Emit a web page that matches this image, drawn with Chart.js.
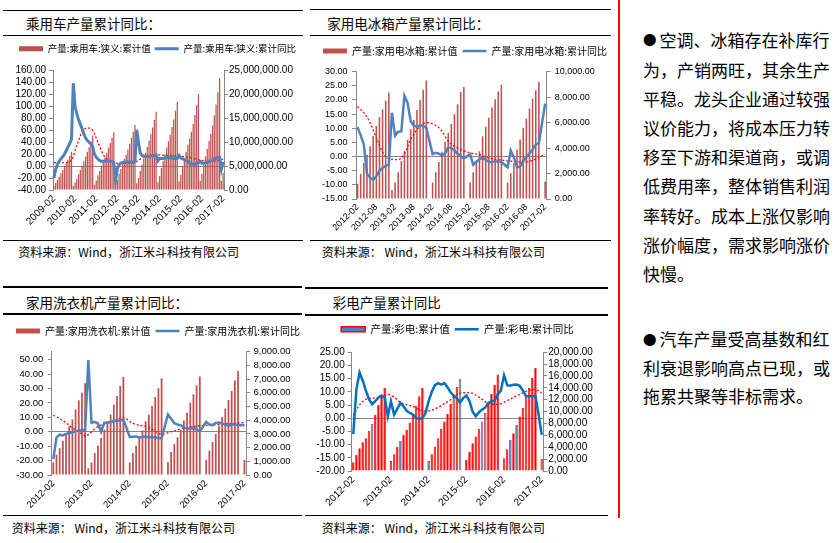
<!DOCTYPE html>
<html><head><meta charset="utf-8">
<script src="https://cdn.jsdelivr.net/npm/chart.js@4.4.1/dist/chart.umd.min.js"></script>
<style>
body{margin:0;background:#fff;width:836px;height:543px;position:relative;overflow:hidden;font-family:'Noto Sans CJK SC',sans-serif;color:#000}
.hl{position:absolute;height:1.5px;background:#000}
.t{position:absolute;font-size:13.5px;line-height:16px;white-space:nowrap}
.s{position:absolute;font-size:12px;line-height:14px;white-space:nowrap}
canvas{position:absolute}
.p{position:absolute;left:643px;font-size:17px;white-space:nowrap}
.p div{height:29.2px;line-height:29.2px}
.b{display:inline-block;width:16.6px;font-size:13.5px;vertical-align:top}
</style></head><body>

<div class="hl" style="left:3px;top:9.5px;width:300px"></div>
<div class="hl" style="left:3px;top:34.5px;width:300px"></div>
<div class="hl" style="left:3px;top:239.5px;width:300px"></div>
<div class="t" style="left:26px;top:14.7px">乘用车产量累计同比：</div>
<div class="s" style="left:18.3px;top:244.7px">资料来源：Wind，浙江米斗科技有限公司</div>

<div class="hl" style="left:310px;top:8.8px;width:301px"></div>
<div class="hl" style="left:310px;top:34.5px;width:301px"></div>
<div class="hl" style="left:310px;top:239.5px;width:301px"></div>
<div class="t" style="left:327.3px;top:15px">家用电冰箱产量累计同比：</div>
<div class="s" style="left:321.7px;top:244.7px">资料来源： Wind，浙江米斗科技有限公司</div>

<div class="hl" style="left:3px;top:286px;width:299px"></div>
<div class="hl" style="left:3px;top:313px;width:299px"></div>
<div class="hl" style="left:3px;top:514.5px;width:299px"></div>
<div class="t" style="left:26px;top:293.7px">家用洗衣机产量累计同比：</div>
<div class="s" style="left:11.7px;top:520.7px">资料来源： Wind，浙江米斗科技有限公司</div>

<div class="hl" style="left:305px;top:287px;width:303px"></div>
<div class="hl" style="left:305px;top:314px;width:303px"></div>
<div class="hl" style="left:305px;top:514.5px;width:303px"></div>
<div class="t" style="left:332.7px;top:293.7px">彩电产量累计同比</div>
<div class="s" style="left:321.7px;top:520.7px">资料来源： Wind，浙江米斗科技有限公司</div>

<div style="position:absolute;left:618px;top:0;width:2px;height:518px;background:#ff0000"></div>

<div class="p" style="top:25.4px">
<div><span class="b">●</span>空调、冰箱存在补库行</div>
<div>为，产销两旺，其余生产</div>
<div>平稳。龙头企业通过较强</div>
<div>议价能力，将成本压力转</div>
<div>移至下游和渠道商，或调</div>
<div>低费用率，整体销售利润</div>
<div>率转好。成本上涨仅影响</div>
<div>涨价幅度，需求影响涨价</div>
<div>快慢。</div>
</div>
<div class="p" style="top:325.4px">
<div style="height:28.4px;line-height:28.4px"><span class="b">●</span>汽车产量受高基数和红</div>
<div style="height:28.4px;line-height:28.4px">利衰退影响高点已现，或</div>
<div style="height:28.4px;line-height:28.4px">拖累共聚等非标需求。</div>
</div>

<canvas id="c1" width="299" height="195" style="left:8px;top:40px"></canvas>
<canvas id="c2" width="302" height="195" style="left:314px;top:41px"></canvas>
<canvas id="c3" width="300" height="191" style="left:8px;top:321px"></canvas>
<canvas id="c4" width="283" height="193" style="left:316px;top:319px"></canvas>

<script>
function months(y0, m0, y1, m1) {
  const out = [];
  let y = y0, m = m0;
  while (y < y1 || (y === y1 && m <= m1)) {
    out.push(y + '-' + String(m).padStart(2, '0'));
    m++; if (m > 12) { m = 1; y++; }
  }
  return out;
}

// ---------- 乘用车 ----------
const carMonths = months(2009, 2, 2017, 2);
const carOutput = [
  850000, 1450000, 2100000, 2800000, 3500000, 4200000, 4900000, 5600000, 6400000, 7200000, 8000000,
  900000, 1600000, 2300000, 3300000, 4200000, 5100000, 6000000, 7000000, 8000000, 9000000, 10200000, 11400000,
  1100000, 2000000, 3100000, 4000000, 5000000, 5900000, 6800000, 7800000, 8900000, 9900000, 11000000, 12100000,
  850000, 2100000, 3400000, 4400000, 5500000, 6500000, 7400000, 8500000, 9700000, 10900000, 12200000, 13600000,
  1400000, 2500000, 4000000, 5300000, 6600000, 7800000, 9000000, 10300000, 11700000, 13100000, 14700000, 16400000,
  1600000, 2900000, 4600000, 6000000, 7500000, 8900000, 10200000, 11600000, 13200000, 14800000, 16600000, 18500000,
  1800000, 3200000, 5000000, 6500000, 8000000, 9500000, 10800000, 12200000, 13900000, 15700000, 17800000, 20100000,
  1900000, 3400000, 5400000, 7000000, 8600000, 10300000, 11800000, 13500000, 15600000, 17900000, 20500000, 23400000,
  1900000, 3550000
];
const carYoY = [
  -20, -6, 3, 8, 12, 16, 20, 26, 32, 38, 45,
  139, 100, 88, 78, 70, 63, 54, 47, 43, 40, 37, 33,
  20, 15, 12, 9, 8, 8, 8.5, 8.5, 8.5, 8.5, 8, 6,
  -24, -4, 2, 5, 6, 7, 7, 7, 7, 7, 7, 8,
  61, 40, 22, 18, 17, 16, 16, 16, 17, 18, 18, 19,
  9, 13, 13, 13, 14, 14, 14, 14, 14, 13, 13, 13,
  18, 14, 12, 11, 10, 8, 5, 3, 3, 3, 5, 6,
  8, 5, 5, 6, 6, 8, 9, 10, 12, 14, 15, 15,
  -5, 7
];
const carTrendMonths = ['2009-02','2009-08','2009-12','2010-03','2010-06','2010-09','2010-12','2011-03','2011-06','2011-09','2012-01','2012-06','2012-11','2013-02','2013-06','2013-11','2014-05','2014-12','2015-06','2015-12','2016-06','2016-12','2017-02'];
const carTrendValues = [6, 6, 10, 35, 57, 64, 60, 40, 20, 9, 5, 4.5, 5, 10, 17, 19, 18, 17, 15, 11, 8, 10, 12];

// ---------- 家用电冰箱 ----------
const fridgeMonths = months(2012, 2, 2017, 2);
const fridgeOutput = [
  1190, 1980, 2820, 3480, 4140, 4940, 5730, 6440, 7050, 7710, 8370,
  710, 1290, 2110, 2970, 3800, 4650, 5470, 6210, 7000, 7790, 8580, 9300,
  null, 1290, 2110, 2900, 3720, 4490, 5200, 5900, 6650, 7450, 8400, 8800,
  null, 1290, 2110, 2950, 3750, 4930, 5680, 6390, 7180, 7840, 8450, 8950,
  null, 1290, 2030, 2820, 3880, 4670, 5600, 6310, 7100, 7900, 8550, 9210,
  null, 1370
];
const fridgeYoY = [
  10.4, 7.5, 4.3, -6, -7.5, -8.2, -7, -5, -4, -3.3, -2.8,
  15.5, 7.4, 8.8, 8.9, 21.5, 19, 12.5, 10.9, 10.6, 11, 11, 10,
  null, 0.9, 1.3, 1.0, 0.4, 1.2, 3.2, 3.0, 2.2, 1.0, 0.2, -0.7,
  null, 0.8, -2.9, -1.8, -1.0, -0.4, -1.2, -1.8, -1.9, -1.7, -1.7, -1.9,
  null, -3.8, 2.1, -0.3, -3.8, -3.6, -1.5, -0.2, 1.2, 2.5, 4.2, 4.8,
  null, 18.7
];
const fridgeTrendMonths = ['2012-02','2012-04','2012-06','2012-08','2012-10','2012-12','2013-03','2013-05','2013-07','2013-10','2013-12','2014-03','2014-05','2014-07','2014-11','2015-02','2015-05','2015-08','2015-11','2016-02','2016-06','2016-09','2016-11','2017-02'];
const fridgeTrendValues = [17.7, 15.5, 12, 6.6, 1.6, -0.7, -1.1, 0.9, 6, 10.8, 12, 11, 9, 5.4, 2.5, 1.3, 0.7, -0.5, -1.1, -1.5, -1.9, -1.7, -0.9, 0.9];

// ---------- 家用洗衣机 ----------
const washerMonths = months(2012, 2, 2017, 2);
const washerOutput = [
  910, 1470, 1960, 2500, 2990, 3560, 4050, 4780, 5450, 6010, 6700,
  490, 910, 1600, 2160, 2700, 3310, 3880, 4420, 5150, 5760, 6500, 7160,
  null, 910, 1600, 2130, 2700, 3240, 3920, 4420, 5030, 5690, 6330, 7060,
  null, 930, 1670, 2260, 2750, 3310, 3970, 4540, 5270, 5890, 6550, 7190,
  null, 1100, 1770, 2400, 2990, 3600, 4240, 4860, 5470, 6130, 6920, 7600,
  null, 1100
];
const washerYoY = [
  -19, -4, -2, -2.5, -1.5, -0.8, -0.3, 0.3, 0.8, 1.2, 1.5,
  49.8, 6.2, 6.9, 5.8, 0, 6.2, 6.5, 6.8, 7.3, 7.6, 7.8, 8.5,
  null, -3.6, -3.4, -3.2, -4, -3.5, -3.5, -3.8, -3.8, -3.8, -4.5, -4.5,
  null, 12, 9, 6, 5, 4.5, 3, 2.2, 2.5, 2.7, 1.5, 0.3,
  null, 6.9, 5, 4.5, 6.2, 6.5, 5.7, 5, 4.3, 5, 5.3, 4.5,
  null, 4.5
];
const washerTrendMonths = ['2012-02','2012-04','2012-06','2012-08','2012-10','2012-12','2013-04','2013-08','2013-12','2014-03','2014-08','2014-12','2015-04','2015-08','2015-12','2016-04','2016-10','2017-02'];
const washerTrendValues = [11.5, 9.2, 6.2, 2.7, 0, -2.7, 3.7, 6.6, 9.7, 5.8, 3, -1.6, 0.7, 3, 4.2, 4.7, 5.8, 6.3];

// ---------- 彩电 ----------
const tvMonths = months(2012, 2, 2017, 2);
const tvOutput = [
  1470, 2700, 3830, 4850, 5520, 6760, 7950, 9470, 11160, 12570, 13980,
  null, 1690, 2820, 4060, 5070, 6090, 6930, 8060, 9470, 10990, 12570, 13980,
  null, 1690, 2820, 4110, 5520, 7100, 8340, 9580, 11270, 12850, 14140, 15550,
  null, 1860, 3270, 4680, 5800, 7100, 8340, 9750, 11440, 12960, 14540, 16230,
  null, 2140, 3660, 5240, 6370, 7780, 9190, 10590, 12570, 13980, 15660, 17360,
  null, 2030
];
const tvYoY = [
  -6, 11, 17.3, 14.3, 10.5, 7.2, 5.3, 6.5, 7.8, 8.6, 7.9,
  0.7, 6.4, 1.3, 3.5, 5.8, 4.5, 2.8, 2.0, 1.4, 0, -0.3, 0,
  1.9, 6.5, 10, 12.5, 13.3, 12.7, 13.3, 11.7, 9.8, 8.5, 7.5, 5.8,
  7.6, 8.6, 6.5, 2.5, 0.8, 2.2, 3.2, 4.1, 5.8, 6.4, 6.6, 9,
  10.5, 16.3, 12.5, 12.3, 12.7, 12.8, 12.3, 10.5, 8.3, 8.3, 8.3, 8.3,
  1.3, -6.3
];
const tvTrendMonths = ['2012-02','2012-04','2012-06','2012-09','2012-12','2013-01','2013-03','2013-05','2013-07','2013-09','2013-11','2014-01','2014-03','2014-06','2014-09','2014-12','2015-03','2015-06','2015-09','2015-12','2016-03','2016-07','2016-10','2016-12','2017-02'];
const tvTrendValues = [1, 5, 7.2, 7.7, 8.7, 9, 8, 6, 5.1, 4.5, 3.2, 2.7, 3, 4.8, 7, 9.5, 9.7, 8, 5.6, 5.2, 6.7, 9, 10.6, 10.8, 9.6];
const tvBlueMonths = ['2012-08','2013-05','2014-02','2014-10','2014-12','2015-07','2015-08','2016-04','2016-06','2017-02'];

// ---------- drawing ----------
const GRAY = '#868686';
const NUM_FONT = "'Liberation Sans', Arial, sans-serif";
const CJK_FONT = "'Noto Sans CJK SC', sans-serif";

function pairs(ms, vs) { return ms.map((m, i) => ({ x: m, y: vs[i] })); }

function build(id, o) {
  const fmtR = v => Number(v).toLocaleString('en-US', { minimumFractionDigits: 2, maximumFractionDigits: 2 });
  const tf = { family: NUM_FONT, size: o.tickSize };
  return new Chart(document.getElementById(id), {
    data: {
      labels: o.labels,
      datasets: [
        { type: 'line', label: o.lineName, data: o.yoy, xAxisID: 'x', yAxisID: 'y', borderColor: o.lineColor,
          borderWidth: o.lineWidth, pointRadius: 0, tension: 0, spanGaps: true, order: 0 },
        { type: 'line', label: 'trend', data: pairs(o.trendMonths, o.trendValues), xAxisID: 'x', yAxisID: 'y',
          borderColor: '#FF0000', borderWidth: 1.3, borderDash: [2, 2], pointRadius: 0,
          cubicInterpolationMode: 'monotone', spanGaps: true, order: 1 },
        { type: 'bar', label: o.barName, data: o.bars, xAxisID: 'x', yAxisID: 'y1', backgroundColor: o.barColors,
          borderColor: o.barBorder || 'rgba(0,0,0,0)', borderWidth: o.barBorderWidth || 0,
          barPercentage: o.barPct, categoryPercentage: 1, order: 2 }
      ]
    },
    options: {
      responsive: false, animation: false, devicePixelRatio: 1,
      layout: { padding: 0 },
      plugins: {
        tooltip: { enabled: false },
        legend: {
          display: true, position: 'top', fullSize: true,
          labels: {
            usePointStyle: true, pointStyleWidth: 24, boxHeight: 5, padding: o.legendPad, color: '#000',
            font: { family: CJK_FONT, size: o.legendSize },
            generateLabels: () => [
              { text: o.barName, fillStyle: o.legendBarFill, strokeStyle: o.legendBarStroke, lineWidth: o.legendBarLW,
                pointStyle: 'rect', hidden: false, datasetIndex: 2 },
              { text: o.lineName, fillStyle: o.lineColor, strokeStyle: o.lineColor, lineWidth: o.lineWidth,
                pointStyle: 'line', hidden: false, datasetIndex: 0 }
            ]
          }
        }
      },
      scales: {
        x: {
          type: 'category', position: 'bottom', offset: true,
          grid: { display: false, drawTicks: false }, border: { display: false },
          ticks: { autoSkip: false, maxRotation: 45, minRotation: 45, padding: 3, color: '#000', font: tf,
            callback: (v, i) => (i % o.every === 0 ? o.labels[i] : null) },
          afterFit: s => { s.height = o.bottomH; }
        },
        xTop: {
          type: 'category', position: 'top', labels: [''], display: true,
          grid: { display: false, drawTicks: false }, border: { display: false }, ticks: { display: false },
          afterFit: s => { s.height = o.topGap; }
        },
        y: {
          position: 'left', min: o.lMin, max: o.lMax, bounds: 'data',
          ticks: { stepSize: o.lStep, includeBounds: false, autoSkip: false, color: '#000', font: tf, padding: o.lPad,
            callback: v => Number(v).toFixed(2) },
          grid: { color: c => (c.tick && Math.abs(c.tick.value) < 1e-9 ? GRAY : 'rgba(0,0,0,0)'),
            tickColor: GRAY, tickLength: 4, lineWidth: 1 },
          border: { color: GRAY },
          afterFit: s => { s.width = o.leftW; }
        },
        y1: {
          position: 'right', min: 0, max: o.rMax, bounds: 'data',
          ticks: { stepSize: o.rStep, includeBounds: false, autoSkip: false, color: '#000', font: tf, padding: o.rPad, callback: fmtR },
          grid: { drawOnChartArea: false, tickColor: GRAY, tickLength: 4 },
          border: { color: GRAY },
          afterFit: s => { s.width = o.rightW; }
        }
      }
    }
  });
}

const EXCEL_RED = '#C0504D';
const EXCEL_BLUE = '#4F81BD';

build('c1', {
  labels: carMonths, bars: carOutput, yoy: carYoY, trendMonths: carTrendMonths, trendValues: carTrendValues,
  barName: '产量:乘用车:狭义:累计值', lineName: '产量:乘用车:狭义:累计同比',
  barColors: EXCEL_RED, barPct: 0.7, lineColor: EXCEL_BLUE, lineWidth: 3,
  legendBarFill: EXCEL_RED, legendBarStroke: EXCEL_RED, legendBarLW: 0, legendSize: 9.5, legendPad: 4,
  lMin: -40, lMax: 160, lStep: 20, rMax: 25000000, rStep: 5000000,
  every: 12, tickSize: 10, lPad: 3, rPad: 1,
  leftW: 45, rightW: 83, topGap: 7.2, bottomH: 45
});

build('c2', {
  labels: fridgeMonths, bars: fridgeOutput, yoy: fridgeYoY, trendMonths: fridgeTrendMonths, trendValues: fridgeTrendValues,
  barName: '产量:家用电冰箱:累计值', lineName: '产量:家用电冰箱:累计同比',
  barColors: EXCEL_RED, barPct: 0.5, lineColor: EXCEL_BLUE, lineWidth: 2.5,
  legendBarFill: EXCEL_RED, legendBarStroke: EXCEL_RED, legendBarLW: 0, legendSize: 10, legendPad: 5,
  lMin: -15, lMax: 30, lStep: 5, rMax: 10000, rStep: 2000,
  every: 6, tickSize: 9, lPad: 4.5, rPad: 4,
  leftW: 42, rightW: 69.3, topGap: 5.7, bottomH: 37
});

build('c3', {
  labels: washerMonths, bars: washerOutput, yoy: washerYoY, trendMonths: washerTrendMonths, trendValues: washerTrendValues,
  barName: '产量:家用洗衣机:累计值', lineName: '产量:家用洗衣机:累计同比',
  barColors: EXCEL_RED, barPct: 0.55, lineColor: EXCEL_BLUE, lineWidth: 2.5,
  legendBarFill: EXCEL_RED, legendBarStroke: EXCEL_RED, legendBarLW: 0, legendSize: 10, legendPad: 5,
  lMin: -30, lMax: 55.6, lStep: 10, rMax: 9000, rStep: 1000,
  every: 12, tickSize: 9.5, lPad: 4.5, rPad: 3.5,
  leftW: 43.7, rightW: 62, topGap: 5.7, bottomH: 37
});

build('c4', {
  labels: tvMonths, bars: tvOutput, yoy: tvYoY, trendMonths: tvTrendMonths, trendValues: tvTrendValues,
  barName: '产量:彩电:累计值', lineName: '产量:彩电:累计同比',
  barColors: tvMonths.map(m => (tvBlueMonths.includes(m) ? EXCEL_BLUE : '#FF0000')),
  barBorder: '#FF0000', barBorderWidth: 0.7, barPct: 0.8, lineColor: '#0070C0', lineWidth: 2.5,
  legendBarFill: EXCEL_BLUE, legendBarStroke: '#FF0000', legendBarLW: 1.5, legendSize: 10.5, legendPad: 5,
  lMin: -20, lMax: 25, lStep: 5, rMax: 20000, rStep: 2000,
  every: 12, tickSize: 10, lPad: 3, rPad: 1,
  leftW: 35.7, rightW: 55.7, topGap: 7.7, bottomH: 41
});
</script>
</body></html>
